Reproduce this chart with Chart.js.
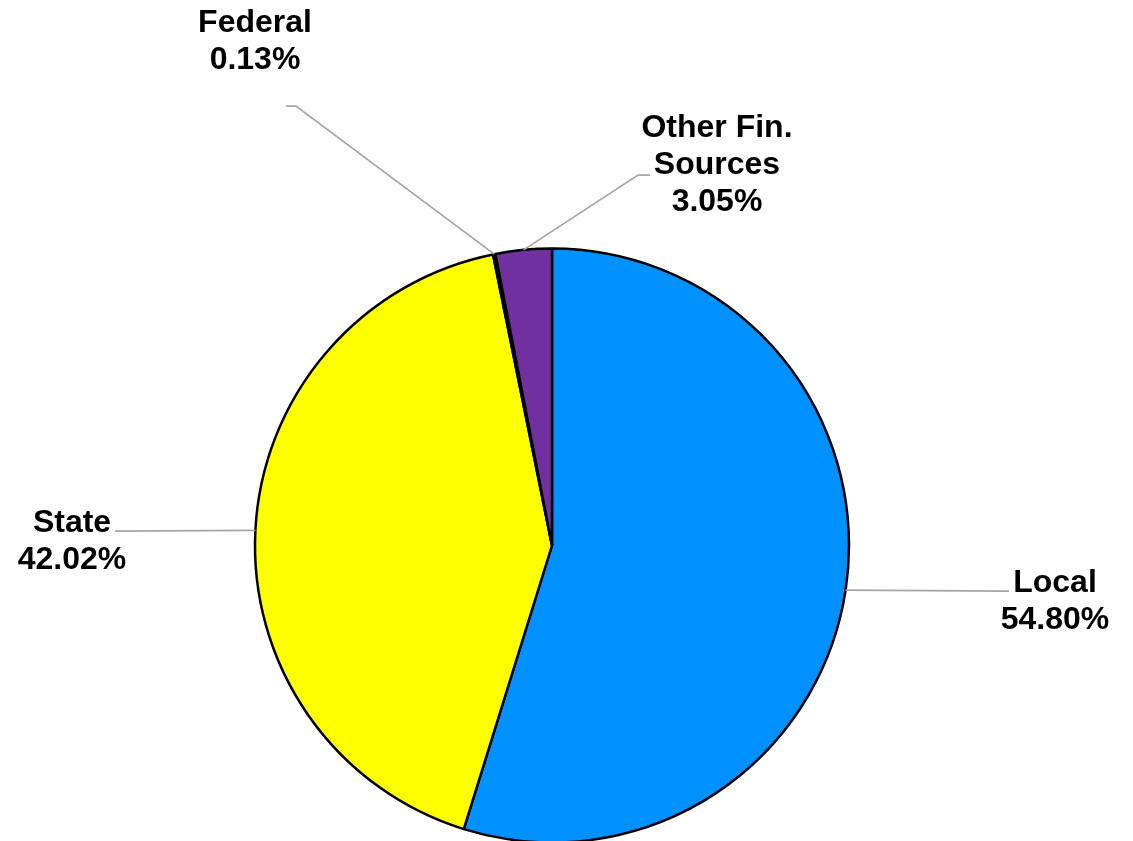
<!DOCTYPE html>
<html>
<head>
<meta charset="utf-8">
<script src="https://cdn.jsdelivr.net/npm/chart.js@4/dist/chart.umd.min.js"></script>
<style>
  html, body { margin: 0; padding: 0; background: #ffffff; }
  #wrap { width: 1133px; height: 841px; position: relative; }
</style>
</head>
<body>
<div id="wrap"><canvas id="c" width="1133" height="841"></canvas></div>
<script>
const categories = ["Local", "State", "Federal", "Other Fin.\nSources"];
const values = [54.80, 42.02, 0.13, 3.05];
const valueLabels = ["54.80%", "42.02%", "0.13%", "3.05%"];
const colors = ["#0091FF", "#FFFF00", "#000000", "#7030A0"];

// label layout: text center x, first baseline y, leader elbow (optional) and leader end
const labelLayout = [
  { x: 1055, y: 592, end: [1009, 591], elbow: null },
  { x: 72, y: 532, end: [115, 531], elbow: null },
  { x: 255, y: 32, end: [286, 106], elbow: [296, 106] },
  { x: 717, y: 137, end: [650, 175], elbow: [638, 175] }
];

const labelPlugin = {
  id: 'labelPlugin',
  afterDatasetsDraw(chart) {
    const ctx = chart.ctx;
    const meta = chart.getDatasetMeta(0);
    ctx.save();
    meta.data.forEach((arc, i) => {
      const lay = labelLayout[i];
      const mid = (arc.startAngle + arc.endAngle) / 2;
      const ax = arc.x + Math.cos(mid) * arc.outerRadius;
      const ay = arc.y + Math.sin(mid) * arc.outerRadius;
      ctx.strokeStyle = '#A6A6A6';
      ctx.lineWidth = 1.75;
      ctx.beginPath();
      ctx.moveTo(ax, ay);
      if (lay.elbow) ctx.lineTo(lay.elbow[0], lay.elbow[1]);
      ctx.lineTo(lay.end[0], lay.end[1]);
      ctx.stroke();

      const lines = categories[i].split('\n').concat([valueLabels[i]]);
      ctx.fillStyle = '#000000';
      ctx.font = 'bold 32px "Liberation Sans", Arial, sans-serif';
      ctx.textAlign = 'center';
      ctx.textBaseline = 'alphabetic';
      lines.forEach((t, k) => ctx.fillText(t, lay.x, lay.y + k * 37));
    });
    ctx.restore();
  }
};

new Chart(document.getElementById('c'), {
  type: 'pie',
  data: {
    labels: categories,
    datasets: [{
      data: values,
      backgroundColor: colors,
      borderColor: '#000000',
      borderWidth: 2.5,
      borderAlign: 'center'
    }]
  },
  options: {
    responsive: false,
    animation: false,
    radius: 297,
    layout: { padding: { left: 0, right: 29, top: 250, bottom: 0 } },
    plugins: {
      legend: { display: false },
      tooltip: { enabled: false }
    }
  },
  plugins: [labelPlugin]
});
</script>
</body>
</html>
